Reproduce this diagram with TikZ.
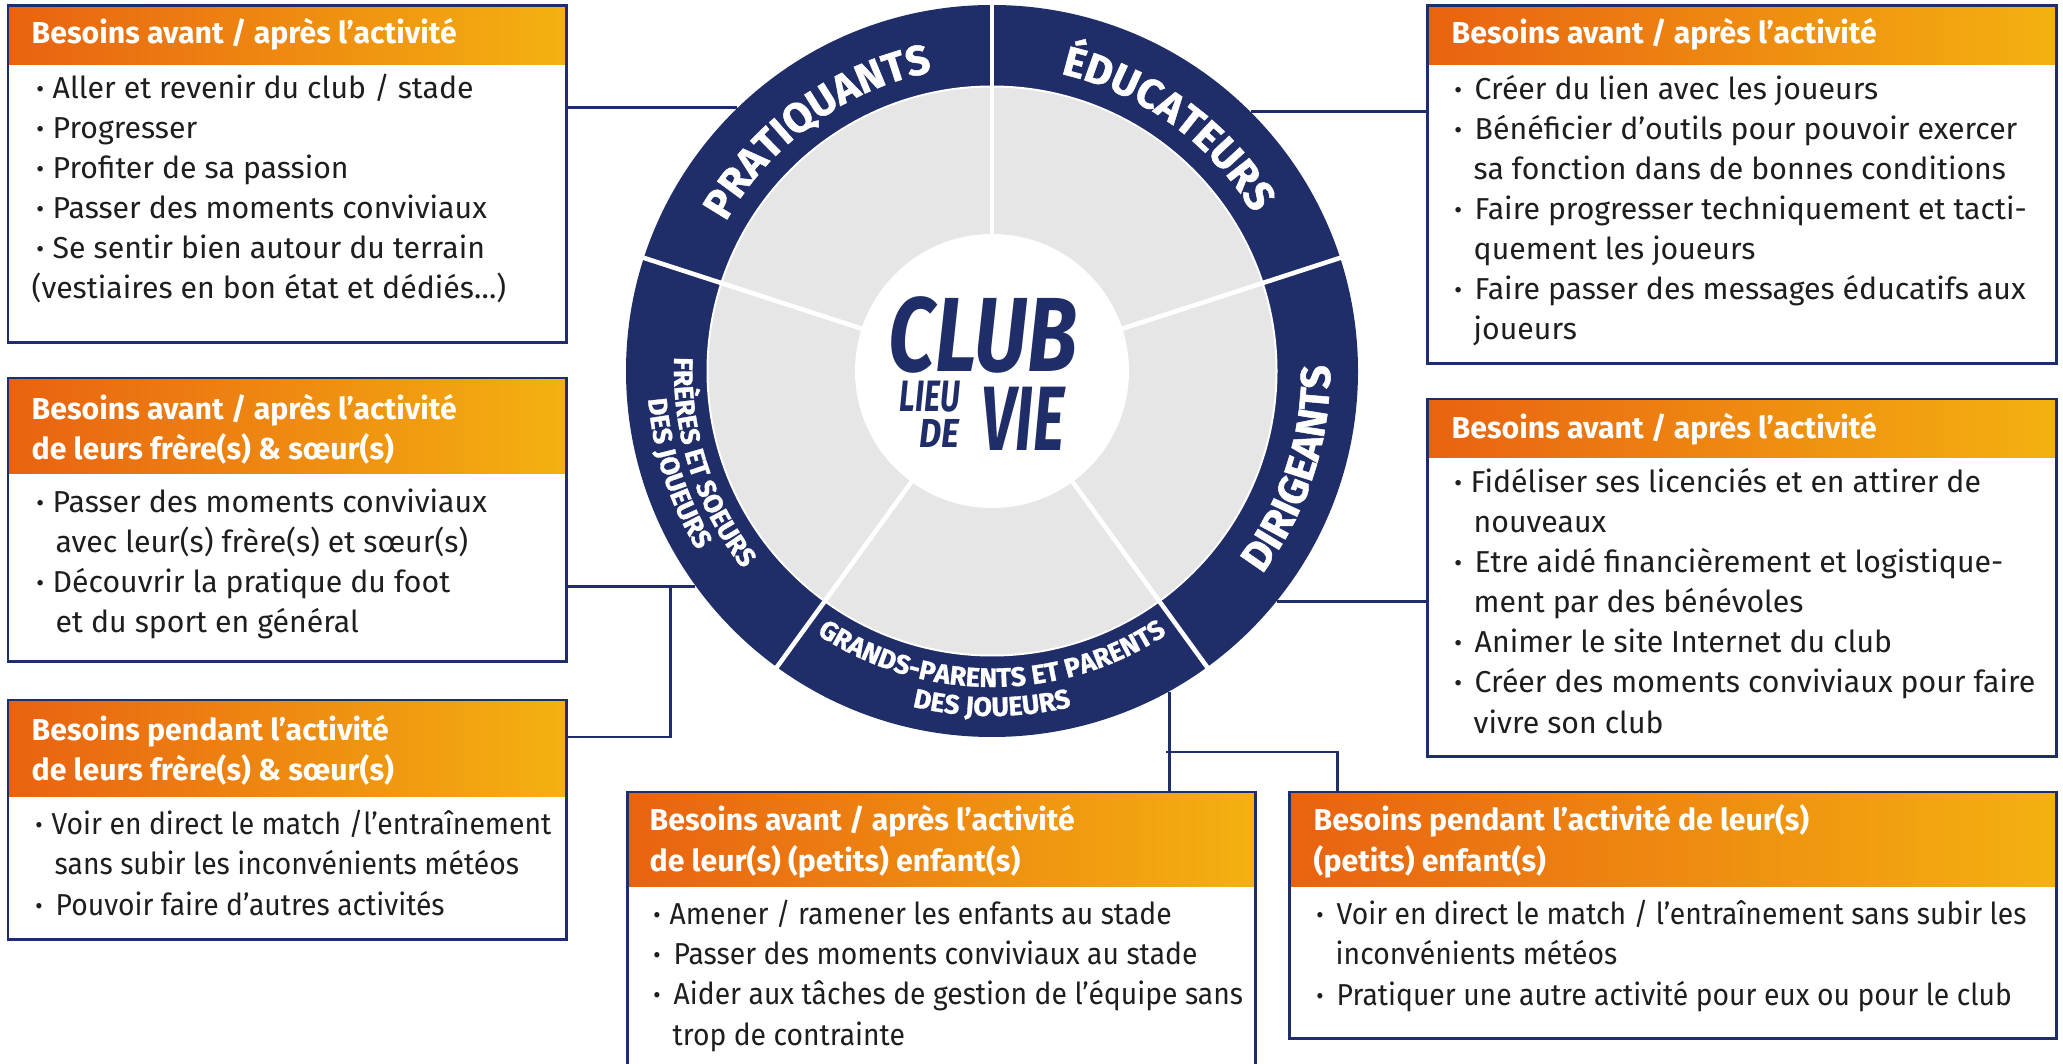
\documentclass[tikz,border=0pt]{standalone}
\usepackage{fontspec}
\setmainfont{Fira Sans}
\newfontfamily\serre{Fira Sans}[FakeStretch=0.935]
\newfontfamily\anneau{Fira Sans}[FakeBold=1.2]
\usepackage{graphicx}
\usetikzlibrary{decorations.text}

\definecolor{marine}{RGB}{31,45,104}
\definecolor{orangeG}{RGB}{233,98,17}
\definecolor{jauneG}{RGB}{243,177,16}
\definecolor{grisS}{RGB}{230,230,230}
\definecolor{encre}{RGB}{30,30,30}

\newcommand\puce{\makebox[1.6mm][l]{\textbf{·}}}
\newcommand\pucel{\makebox[2mm][l]{\textbf{·}}}
\newcommand\retrait{\hspace*{1.9mm}}

\tikzset{
  cadre/.style={fill=white, inner sep=0pt, anchor=north west,
    path picture={\shade[left color=orangeG, right color=jauneG]
      (path picture bounding box.north west) rectangle ([yshift=-#1]path picture bounding box.north east);}},
  bord/.style={draw=marine, line width=0.85pt},
  lien/.style={draw=marine, line width=0.85pt},
  titre/.style={text=white, font=\bfseries\fontsize{8.6}{11.38}\selectfont, align=left, anchor=base west, inner sep=0pt},
  liste/.style={text=encre, font=\fontsize{8.6}{11.38}\selectfont, align=left, anchor=base west, inner sep=0pt},
  liste serree/.style={liste, font=\serre\fontsize{8.6}{11.38}\selectfont},
  logo/.style={text=marine, font=\bfseries\itshape, inner sep=0pt},
  etiquette/.style 2 args={decorate, decoration={text along path, text align=center, text color=white,
    text={|\anneau\bfseries\fontsize{#1}{#1}\selectfont|#2}}}
}

\begin{document}
\begin{tikzpicture}[x=0.01cm, y=-0.01cm]
\useasboundingbox[fill=white] (0,0) rectangle (2063,1064);

% cercle central
\node[circle, minimum size=7.32cm, inner sep=0pt] (ring) at (992,371) {};
\begin{scope}[shift={(992,371)}, y=0.01cm]
  \fill[marine] (0,0) circle[radius=366];
  \fill[white] (0,0) circle[radius=285.5];
  \fill[grisS] (0,0) circle[radius=283.5];
  \fill[white] (0,0) circle[radius=137];
  \foreach \a in {90,18,-54,-126,162} \draw[white, line width=1.3pt] (\a:137) -- (\a:367);
  \path[etiquette={11.8}{PRATIQUANTS}] (162:305) arc[start angle=162, end angle=90, radius=305];
  \path[etiquette={11.8}{ÉDUCATEURS}] (90:305) arc[start angle=90, end angle=18, radius=305];
  \path[etiquette={11.8}{DIRIGEANTS}] (-54:338) arc[start angle=-54, end angle=18, radius=338];
  \path[etiquette={7.6}{GRANDS-PARENTS ET PARENTS}] (-126:316) arc[start angle=-126, end angle=-54, radius=316];
  \path[etiquette={7.6}{DES JOUEURS}] (-126:345) arc[start angle=-126, end angle=-54, radius=345];
  \path[etiquette={7.6}{FRÈRES ET SOEURS}] (162:318) arc[start angle=162, end angle=234, radius=318];
  \path[etiquette={7.6}{DES JOUEURS}] (162:345) arc[start angle=162, end angle=234, radius=345];
\end{scope}
\node[logo] (club) at (983,335) {\scalebox{0.78}[1]{\fontsize{30}{30}\selectfont CLUB}};
\node[logo] (lieu) at (930,397) {\scalebox{0.7}[1]{\fontsize{12.5}{12.5}\selectfont LIEU}};
\node[logo] (de) at (939,433) {\scalebox{0.85}[1]{\fontsize{11.5}{11.5}\selectfont DE}};
\node[logo] (vie) at (1023,419) {\scalebox{0.66}[1]{\fontsize{26}{26}\selectfont VIE}};

% cadres
\node[cadre=0.58cm, minimum width=5.57cm, minimum height=3.35cm] (boxA) at (8,6) {};
\node[cadre=0.95cm, minimum width=5.57cm, minimum height=2.82cm] (boxB) at (8,378) {};
\node[cadre=0.96cm, minimum width=5.57cm, minimum height=2.38cm] (boxC) at (8,700) {};
\node[cadre=0.58cm, minimum width=6.28cm, minimum height=3.56cm] (boxD) at (1427,6) {};
\node[cadre=0.58cm, minimum width=6.28cm, minimum height=3.56cm] (boxE) at (1427,399) {};
\node[cadre=0.94cm, minimum width=6.27cm, minimum height=2.78cm] (boxF) at (627,792) {};
\node[cadre=0.94cm, minimum width=7.66cm, minimum height=2.45cm] (boxG) at (1289,792) {};
\foreach \b in {A,B,C,D,E,F,G} \draw[bord] (box\b.north west) rectangle (box\b.south east);

% liens
\coordinate (jonctionB) at (670,587);
\coordinate (brasC) at (670,737);
\coordinate (jonctionF) at (1166,752);
\coordinate (brasG) at (1337,792);
\draw[lien] (boxA.east |- ring.134.29) -- (ring.134.29);
\draw[lien] (boxB.east |- ring.216.17) -- (ring.216.17);
\draw[lien] (jonctionB) -- (brasC) -- (boxC.east |- brasC);
\draw[lien] (ring.45.94) -- (boxD.west |- ring.45.94);
\draw[lien] (ring.-39.74) -- (boxE.west |- ring.-39.74);
\draw[lien] (ring.-61.62) -- (boxF.north -| ring.-61.62);
\draw[lien] (jonctionF) -| (brasG);

% textes (ancre sur la ligne de base de la derniere ligne)
\node[titre] (titreA) at (31,44) {Besoins avant / après l’activité};
\node[liste] (listeA) at (36,299) {\puce Aller et revenir du club / stade\\
  \puce Progresser\\ \puce Profiter de sa passion\\ \puce Passer des moments conviviaux\\
  \puce Se sentir bien autour du terrain\\ \hspace*{-0.5mm}(vestiaires en bon état et dédiés…)};
\node[titre] (titreB) at (31,460) {Besoins avant / après l’activité\\ de leurs frère(s) \& sœur(s)};
\node[liste] (listeB) at (36,633) {\puce Passer des moments conviviaux\\
  \retrait avec leur(s) frère(s) et sœur(s)\\ \puce Découvrir la pratique du foot\\
  \retrait et du sport en général};
\node[titre] (titreC) at (31,781) {Besoins pendant l’activité\\ de leurs frère(s) \& sœur(s)};
\node[liste serree] (listeC) at (35,915) {\puce Voir en direct le match /l’entraînement\\
  \retrait sans subir les inconvénients météos\\ \pucel Pouvoir faire d’autres activités};
\node[titre] (titreD) at (1451,44) {Besoins avant / après l’activité};
\node[liste] (listeD) at (1454,340) {\pucel Créer du lien avec les joueurs\\
  \pucel Bénéficier d’outils pour pouvoir exercer\\ \retrait sa fonction dans de bonnes conditions\\
  \pucel Faire progresser techniquement et tacti-\\ \retrait quement les joueurs\\
  \pucel Faire passer des messages éducatifs aux\\ \retrait joueurs};
\node[titre] (titreE) at (1451,439) {Besoins avant / après l’activité};
\node[liste] (listeE) at (1454,733) {\puce Fidéliser ses licenciés et en attirer de\\
  \retrait nouveaux\\ \pucel Etre aidé financièrement et logistique-\\ \retrait ment par des bénévoles\\
  \pucel Animer le site Internet du club\\ \pucel Créer des moments conviviaux pour faire\\
  \retrait vivre son club};
\node[titre] (titreF) at (649,871) {Besoins avant / après l’activité\\ de leur(s) (petits) enfant(s)};
\node[liste serree] (listeF) at (653,1045) {\puce Amener / ramener les enfants au stade\\
  \pucel Passer des moments conviviaux au stade\\ \pucel Aider aux tâches de gestion de l’équipe sans\\
  \retrait trop de contrainte};
\node[titre] (titreG) at (1313,871) {Besoins pendant l’activité de leur(s)\\ (petits) enfant(s)};
\node[liste serree] (listeG) at (1316,1005) {\pucel Voir en direct le match / l’entraînement sans subir les\\
  \retrait inconvénients météos\\ \pucel Pratiquer une autre activité pour eux ou pour le club};
\end{tikzpicture}
\end{document}
